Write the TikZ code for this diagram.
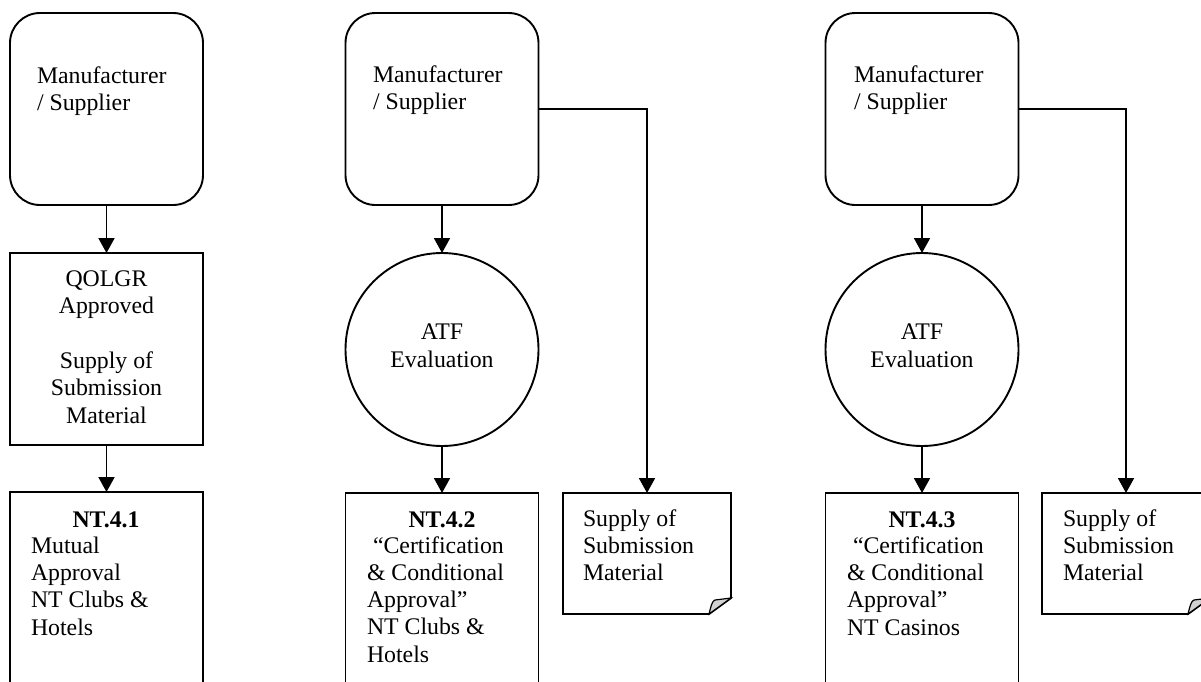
\documentclass[tikz,border=0pt]{standalone}
\usepackage{fontspec}
\setmainfont{Liberation Serif}
\usetikzlibrary{arrows.meta}
\begin{document}
\begin{tikzpicture}[x=1pt,y=-1pt,
  every node/.style={inner sep=0pt, outer sep=0pt},
  ln/.style={line width=1.9pt},
  rbox/.style={draw, ln, rounded corners=30pt, minimum width=193pt, minimum height=192pt},
  sbox/.style={draw, ln, minimum width=193pt, minimum height=192pt},
  tbox/.style={draw, ln, minimum width=193pt, minimum height=228pt},
  circ/.style={draw, ln, circle, minimum size=193pt},
  notebox/.style={minimum width=168pt, minimum height=121pt},
  fold/.style={fill=gray!35, line width=1.2pt},
  txt/.style={font=\fontsize{23.8}{27.3}\selectfont, align=left, anchor=base west},
  ctxt/.style={font=\fontsize{23.8}{27.3}\selectfont, align=center, anchor=base},
  htxt/.style={font=\fontsize{23.8}{27.3}\selectfont\bfseries, anchor=base},
  arr/.style={ln, -{Triangle[width=16pt,length=15pt]}}]
\useasboundingbox (0,0) rectangle (1201,681);
\clip (0,0) rectangle (1201,681);

% column 1
\node[rbox] (m1) at (106.5,109) {};
\node[sbox] (q) at (106.5,349) {};
\node[tbox] (b1) at (106.5,606) {};
% column 2
\node[rbox] (m2) at (442,109) {};
\node[circ] (c2) at (442,349.5) {};
\node[tbox] (b2) at (442,607) {};
\node[notebox] (n2) at (647,553.5) {};
% column 3
\node[rbox] (m3) at (922,109) {};
\node[circ] (c3) at (922,349.5) {};
\node[tbox] (b3) at (922,607) {};
\node[notebox] (n3) at (1126,553.5) {};

% notes outlines
\foreach \n in {n2,n3}{
  \draw[ln] (\n.north west) -- (\n.north east) -- ([yshift=16pt]\n.south east)
    -- ([xshift=-22pt]\n.south east) -- (\n.south west) -- cycle;
  \filldraw[fold] ([xshift=-22pt]\n.south east) .. controls +(2,-8) and +(-3,1) ..
    ([xshift=-16pt,yshift=14pt]\n.south east) -- ([yshift=16pt]\n.south east) -- cycle;
}

% connectors
\draw[arr] (m1) -- (q);
\draw[arr] (q) -- (b1);
\draw[arr] (m2) -- (c2);
\draw[arr] (c2) -- (b2);
\draw[arr] (m2.east) -| (n2.north);
\draw[arr] (m3) -- (c3);
\draw[arr] (c3) -- (b3);
\draw[arr] (m3.east) -| (n3.north);

% texts (anchor = baseline of the last line)
\node[txt] (tm1) at (37,110.3) {Manufacturer\\/ Supplier};
\node[txt] (tm2) at (373,109.3) {Manufacturer\\/ Supplier};
\node[txt] (tm3) at (854,109.3) {Manufacturer\\/ Supplier};
\node[ctxt] (tq) at (106.5,423) {QOLGR\\Approved\\[27.3pt]Supply of\\Submission\\Material};
\node[ctxt] (tc2) at (442,367) {ATF\\Evaluation};
\node[ctxt] (tc3) at (922,367) {ATF\\Evaluation};
\node[htxt] (h1) at (106,527) {NT.4.1};
\node[txt] (tb1) at (31,635) {Mutual\\Approval\\NT Clubs \&\\Hotels};
\node[htxt] (h2) at (442,527) {NT.4.2};
\node[txt] (tb2) at (367,662.2) {\hspace{6pt}“Certification\\\& Conditional\\Approval”\\NT Clubs \&\\Hotels};
\node[htxt] (h3) at (922,527) {NT.4.3};
\node[txt] (tb3) at (847,635) {\hspace{6pt}“Certification\\\& Conditional\\Approval”\\NT Casinos};
\node[txt] (tn2) at (583,580.6) {Supply of\\Submission\\Material};
\node[txt] (tn3) at (1063,580.6) {Supply of\\Submission\\Material};
\end{tikzpicture}
\end{document}
